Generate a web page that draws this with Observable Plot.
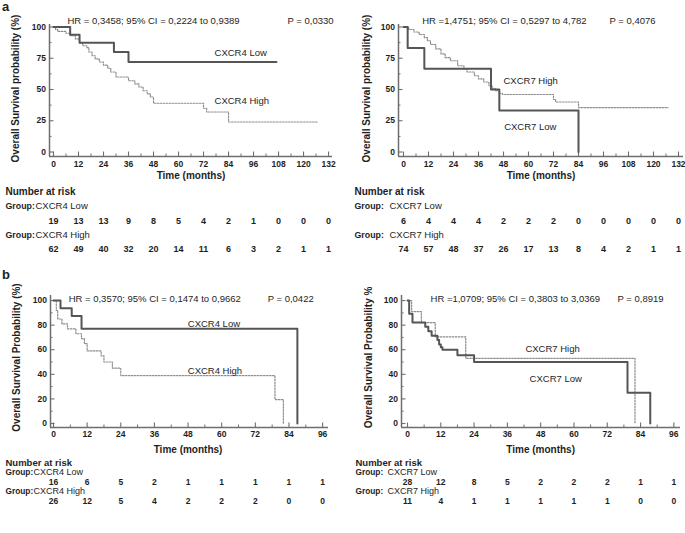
<!DOCTYPE html>
<html><head><meta charset="utf-8">
<script src="https://cdn.jsdelivr.net/npm/d3@7"></script>
<script src="https://cdn.jsdelivr.net/npm/@observablehq/plot@0.6"></script>
<style>
body{margin:0;background:#fff;}
#root{position:relative;width:685px;height:533px;overflow:hidden;font-family:"Liberation Sans",Arial,sans-serif;color:#222;}
.panel{position:absolute;}
.letter{position:absolute;font-weight:bold;font-size:13px;line-height:13px;}
</style></head><body><div id="root"></div>
<script>
// ---------- Data ----------
const xTicksA = [0, 12, 24, 36, 48, 60, 72, 84, 96, 108, 120, 132];
const xTicksB = [0, 12, 24, 36, 48, 60, 72, 84, 96];
const yTicksA = [0, 25, 50, 75, 100];
const yTicksB = [0, 20, 40, 60, 80, 100];

// Panel a, left: CXCR4
const aCxcr4LowT  = [0, 8, 12.5, 29, 36, 107];
const aCxcr4LowS  = [100, 93.8, 87.5, 80, 72, 72];
const aCxcr4HighT = [0, 1, 2, 6, 8, 10.5, 12.5, 14, 16, 17, 18.5, 20, 22, 24, 26, 27.5, 30, 36, 39, 41, 43, 45, 46.5, 48, 72, 73.5, 84, 127];
const aCxcr4HighS = [100, 98, 96.5, 95, 93, 90.5, 87.5, 85, 83.5, 80, 77, 74.5, 72, 69.5, 67, 64, 60, 57, 54.5, 52, 49, 46.5, 44, 39, 35, 32, 24, 24];
const aCxcr4RiskLow  = [19, 13, 13, 9, 8, 5, 4, 2, 1, 0, 0, 0];
const aCxcr4RiskHigh = [62, 49, 40, 32, 20, 14, 11, 6, 3, 2, 1, 1];

// Panel a, right: CXCR7
const aCxcr7LowT  = [0, 2, 10, 42, 46, 84];
const aCxcr7LowS  = [100, 83.3, 66.7, 50, 33.3, 0];
const aCxcr7HighT = [0, 2.5, 5, 7.5, 10, 11.5, 13, 15.5, 18, 20, 22.5, 26, 29, 30.5, 34, 36, 38.5, 41, 42.5, 44, 46, 47.5, 72, 73, 84, 127];
const aCxcr7HighS = [100, 98, 96, 94, 91.5, 89, 86, 82.5, 78.5, 75.5, 73, 69, 66.5, 64, 61, 58.5, 56, 53, 51, 49, 47, 46, 42, 40, 35.5, 35.5];
const aCxcr7RiskLow  = [6, 4, 4, 4, 2, 2, 2, 0, 0, 0, 0, 0];
const aCxcr7RiskHigh = [74, 57, 48, 37, 26, 17, 13, 8, 4, 2, 1, 1];

// Panel b, left: CXCR4
const bCxcr4LowT  = [0, 2.5, 6.5, 10, 87];
const bCxcr4LowS  = [100, 93.8, 87.5, 77, 0];
const bCxcr4HighT = [0, 1, 1.5, 3, 5, 8, 10, 11, 12, 17, 18, 21, 24, 79, 82];
const bCxcr4HighS = [100, 92, 85, 81, 77, 73, 69, 65, 59, 55, 50, 45, 39, 19.5, 0];
const bCxcr4RiskLow  = [16, 6, 5, 2, 1, 1, 1, 1, 1];
const bCxcr4RiskHigh = [26, 12, 5, 4, 2, 2, 2, 0, 0];

// Panel b, right: CXCR7
const bCxcr7LowT  = [0, 0.6, 1.8, 6.4, 7.5, 8.7, 10.8, 11.4, 12, 12.6, 18, 24, 79.3, 87.5];
const bCxcr7LowS  = [100, 89.3, 82.1, 78.6, 75, 71.4, 67.9, 64.3, 62, 60, 55.6, 50, 25, 0];
const bCxcr7HighT = [0, 1.5, 5, 10, 21, 82];
const bCxcr7HighS = [100, 91, 82, 70.5, 53, 0];
const bCxcr7RiskLow  = [28, 12, 8, 5, 2, 2, 2, 1, 1];
const bCxcr7RiskHigh = [11, 4, 1, 1, 1, 1, 1, 0, 0];

const hrTexts = [
  "HR = 0,3458; 95% CI = 0,2224 to 0,9389",
  "HR =1,4751; 95% CI = 0,5297 to 4,782",
  "HR = 0,3570; 95% CI = 0,1474 to 0,9662",
  "HR =1,0709; 95% CI = 0,3803 to 3,0369"
];
const pTexts = ["P = 0,0330", "P = 0,4076", "P = 0,0422", "P = 0,8919"];
const yTitles = [
  "Overall Survival probability (%)",
  "Overall Survival probability (%)",
  "Overall Survival Probability (%)",
  "Overall Survival Probability %"
];
const groupNames = [["CXCR4 Low", "CXCR4 High"], ["CXCR7 Low", "CXCR7 High"], ["CXCR4 Low", "CXCR4 High"], ["CXCR7 Low", "CXCR7 High"]];

// ---------- Drawing ----------
const FONT = "'Liberation Sans', Arial, Helvetica, sans-serif";
const AXIS = "#6e6e6e";
const TXT = "#1e1e1e";

function zip(ts, ss) { return ts.map((t, i) => ({t, s: ss[i]})); }
function half(ticks) { const out = []; for (let i = 0; i < ticks.length - 1; i++) out.push((ticks[i] + ticks[i+1]) / 2); return out; }

function panel(c) {
  const plotW = c.width - c.mL - c.mR;
  const plotH = c.height - c.mT - c.mB;
  const xMid = (c.xTicks[0] + c.xTicks[c.xTicks.length - 1]) / 2;
  const R = c.rows;
  const small = {fontSize: 9.5, fill: TXT};
  const tf = c.tableFont;
  const marks = [
    // axis lines
    Plot.ruleX([c.xDomain[0]], {stroke: AXIS, strokeWidth: 1.5}),
    Plot.ruleY([c.yDomain[0]], {stroke: AXIS, strokeWidth: 1.5}),
    // ticks (inward)
    Plot.ruleX(c.xTicks, {x: d => d, insetTop: plotH - 4.5, stroke: AXIS, strokeWidth: 1.1}),
    Plot.ruleX(half(c.xTicks), {x: d => d, insetTop: plotH - 2.5, stroke: AXIS, strokeWidth: 1}),
    Plot.ruleY(c.yTicks, {y: d => d, insetRight: plotW - 4.5, stroke: AXIS, strokeWidth: 1.1}),
    Plot.ruleY(half(c.yTicks), {y: d => d, insetRight: plotW - 2.5, stroke: AXIS, strokeWidth: 1}),
    // tick labels
    Plot.text(c.xTicks, {x: d => d, text: d => String(d), frameAnchor: "bottom", dy: c.tickDy, fontWeight: "bold", fontSize: 8.5, fill: TXT}),
    Plot.text(c.yTicks, {y: d => d, text: d => String(d), frameAnchor: "left", dx: -3.5, textAnchor: "end", fontWeight: "bold", fontSize: 8.5, fill: TXT}),
    // axis titles
    Plot.text([c.yTitle], {text: d => d, frameAnchor: "left", textAnchor: "middle", rotate: -90, dx: c.yTitleX - c.mL, dy: c.yTitleDy, fontWeight: "bold", fontSize: 10, fill: TXT}),
    Plot.text(["Time (months)"], {x: () => xMid, text: d => d, frameAnchor: "bottom", dy: R.title, fontWeight: "bold", fontSize: 10, fill: TXT}),
    // curves
    Plot.line(zip(c.highT, c.highS), {x: "t", y: "s", curve: "step-after", stroke: "#8d8d8d", strokeWidth: 1.2, strokeDasharray: "1.6,1.4"}),
    Plot.line(zip(c.lowT, c.lowS), {x: "t", y: "s", curve: "step-after", stroke: "#555", strokeWidth: 2}),
    // annotations
    Plot.text([c.hr], {x: () => c.hrAt[0], y: () => c.hrAt[1], text: d => d, textAnchor: "start", ...small}),
    Plot.text([c.p], {x: () => c.pAt[0], y: () => c.pAt[1], text: d => d, textAnchor: "start", ...small}),
    Plot.text([c.names[0]], {x: () => c.lowAt[0], y: () => c.lowAt[1], text: d => d, textAnchor: "start", ...small}),
    Plot.text([c.names[1]], {x: () => c.highAt[0], y: () => c.highAt[1], text: d => d, textAnchor: "start", ...small}),
    // risk table
    Plot.text(["Number at risk"], {text: d => d, frameAnchor: "bottom-left", dx: c.tableX - c.mL, dy: R.head, textAnchor: "start", fontWeight: "bold", fontSize: tf + 0.5, fill: TXT}),
    Plot.text(["Group:"], {text: d => d, frameAnchor: "bottom-left", dx: c.tableX - c.mL, dy: R.g1, textAnchor: "start", fontWeight: "bold", fontSize: tf - 0.7, fill: TXT}),
    Plot.text([c.names[0]], {text: d => d, frameAnchor: "bottom-left", dx: c.nameX - c.mL, dy: R.g1, textAnchor: "start", fontSize: tf, fill: TXT}),
    Plot.text(c.riskLow, {x: (d, i) => c.xTicks[i], text: d => String(d), frameAnchor: "bottom", dy: R.n1, fontWeight: "bold", fontSize: tf - 0.5, fill: TXT}),
    Plot.text(["Group:"], {text: d => d, frameAnchor: "bottom-left", dx: c.tableX - c.mL, dy: R.g2, textAnchor: "start", fontWeight: "bold", fontSize: tf - 0.7, fill: TXT}),
    Plot.text([c.names[1]], {text: d => d, frameAnchor: "bottom-left", dx: c.nameX - c.mL, dy: R.g2, textAnchor: "start", fontSize: tf, fill: TXT}),
    Plot.text(c.riskHigh, {x: (d, i) => c.xTicks[i], text: d => String(d), frameAnchor: "bottom", dy: R.n2, fontWeight: "bold", fontSize: tf - 0.5, fill: TXT})
  ];
  const svg = Plot.plot({
    width: c.width, height: c.height,
    marginLeft: c.mL, marginRight: c.mR, marginTop: c.mT, marginBottom: c.mB,
    x: {domain: c.xDomain, axis: null},
    y: {domain: c.yDomain, axis: null},
    style: {fontFamily: FONT, fontSize: "9.5px", color: TXT, background: "transparent", overflow: "visible"},
    marks
  });
  const div = document.createElement("div");
  div.className = "panel";
  div.style.left = c.left + "px";
  div.style.top = c.top + "px";
  div.appendChild(svg);
  return div;
}

const rowsA = {title: 22, head: 38, g1: 52, n1: 67, g2: 81, n2: 95};
const rowsB = {title: 25, head: 38, g1: 47.5, n1: 57, g2: 66.5, n2: 76};

const root = document.getElementById("root");

root.appendChild(panel({
  left: 0, top: 0, width: 340, height: 268, mL: 49, mR: 8, mT: 24, mB: 112,
  xDomain: [-1.92, 133.9], yDomain: [-3.6, 102], xTicks: xTicksA, yTicks: yTicksA,
  tickDy: 10, rows: rowsA, tableFont: 9.5, yTitle: yTitles[0], yTitleX: 15, yTitleDy: -2, tableX: 5, nameX: 35,
  lowT: aCxcr4LowT, lowS: aCxcr4LowS, highT: aCxcr4HighT, highS: aCxcr4HighS,
  riskLow: aCxcr4RiskLow, riskHigh: aCxcr4RiskHigh, names: groupNames[0],
  hr: hrTexts[0], p: pTexts[0], hrAt: [6.7, 104.8], pAt: [112.3, 104.8], lowAt: [77.3, 79.6], highAt: [77.3, 41.2]
}));

root.appendChild(panel({
  left: 340, top: 0, width: 345, height: 268, mL: 58, mR: 2, mT: 24, mB: 112,
  xDomain: [-2.4, 134.4], yDomain: [-3.6, 102], xTicks: xTicksA, yTicks: yTicksA,
  tickDy: 10, rows: rowsA, tableFont: 9.5, yTitle: yTitles[1], yTitleX: 26, yTitleDy: -2, tableX: 14, nameX: 49,
  lowT: aCxcr7LowT, lowS: aCxcr7LowS, highT: aCxcr7HighT, highS: aCxcr7HighS,
  riskLow: aCxcr7RiskLow, riskHigh: aCxcr7RiskHigh, names: groupNames[1],
  hr: hrTexts[1], p: pTexts[1], hrAt: [9, 105.2], pAt: [98.9, 105.2], lowAt: [48.3, 20.4], highAt: [48, 57.2]
}));

root.appendChild(panel({
  left: 0, top: 278, width: 340, height: 255, mL: 50, mR: 12, mT: 17, mB: 106,
  xDomain: [-1.07, 98.1], yDomain: [-3.25, 104.1], xTicks: xTicksB, yTicks: yTicksB,
  tickDy: 9.5, rows: rowsB, tableFont: 9, yTitle: yTitles[2], yTitleX: 16, yTitleDy: -4, tableX: 5, nameX: 33,
  lowT: bCxcr4LowT, lowS: bCxcr4LowS, highT: bCxcr4HighT, highS: bCxcr4HighS,
  riskLow: bCxcr4RiskLow, riskHigh: bCxcr4RiskHigh, names: groupNames[2],
  hr: hrTexts[2], p: pTexts[2], hrAt: [5.4, 101.6], pAt: [76.4, 101.6], lowAt: [47.9, 81.3], highAt: [47.9, 43.1]
}));

root.appendChild(panel({
  left: 340, top: 278, width: 345, height: 255, mL: 61, mR: 5, mT: 17, mB: 106,
  xDomain: [-2.16, 98.4], yDomain: [-3.25, 104.1], xTicks: xTicksB, yTicks: yTicksB,
  tickDy: 9.5, rows: rowsB, tableFont: 9, yTitle: yTitles[3], yTitleX: 28, yTitleDy: -4, tableX: 15, nameX: 47,
  lowT: bCxcr7LowT, lowS: bCxcr7LowS, highT: bCxcr7HighT, highS: bCxcr7HighS,
  riskLow: bCxcr7RiskLow, riskHigh: bCxcr7RiskHigh, names: groupNames[3],
  hr: hrTexts[3], p: pTexts[3], hrAt: [8.3, 101.6], pAt: [75.7, 101.6], lowAt: [44, 36.4], highAt: [42.5, 60.9]
}));

const la = document.createElement("div"); la.className = "letter"; la.textContent = "a"; la.style.left = "2px"; la.style.top = "0px"; root.appendChild(la);
const lb = document.createElement("div"); lb.className = "letter"; lb.textContent = "b"; lb.style.left = "2px"; lb.style.top = "268px"; root.appendChild(lb);
</script></body></html>
